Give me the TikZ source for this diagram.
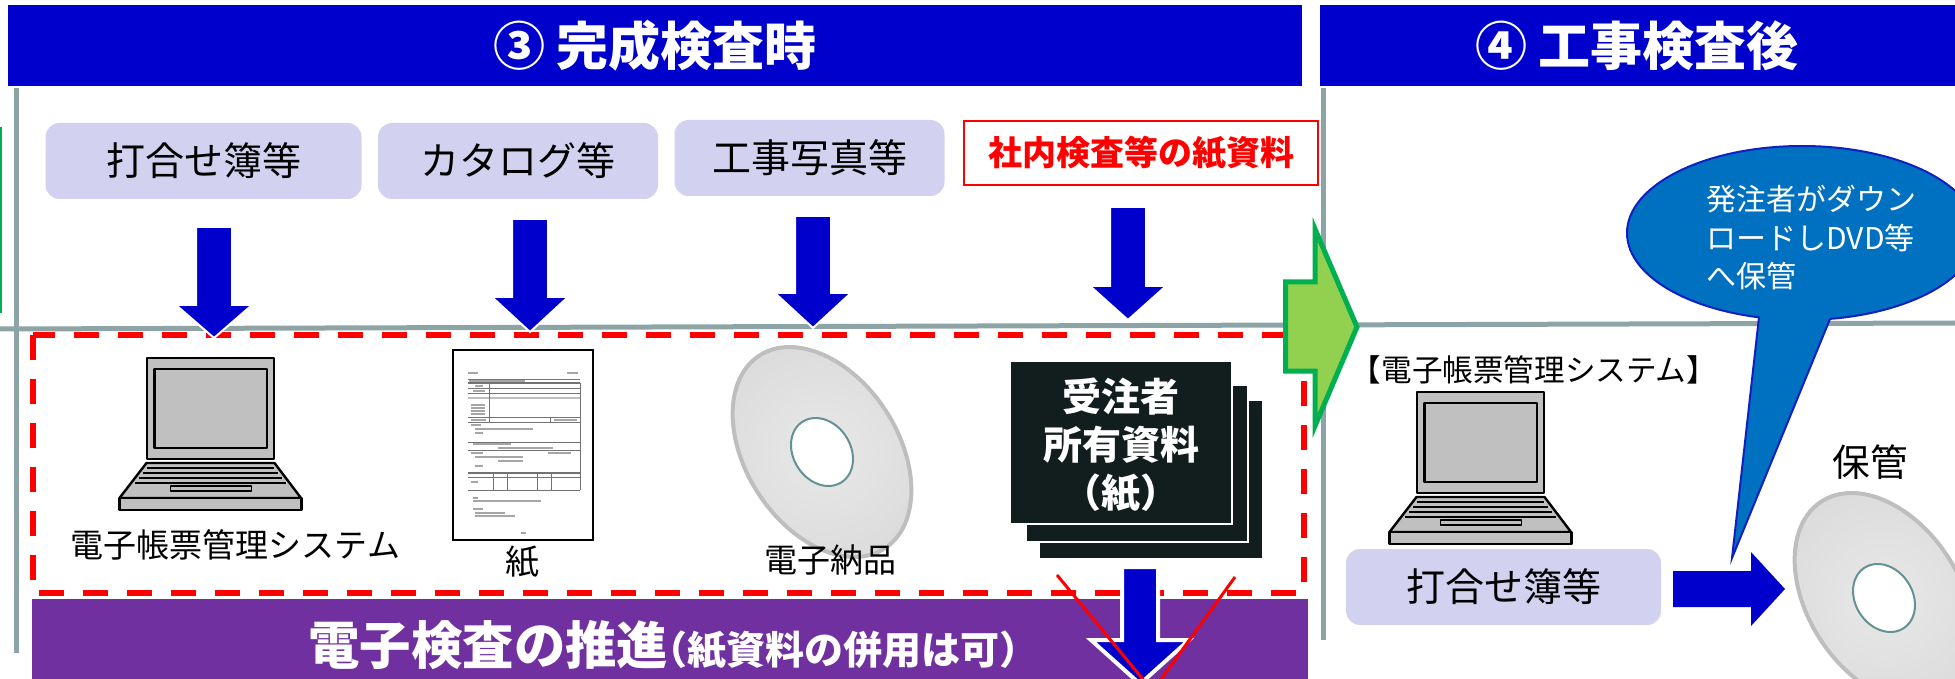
\documentclass[tikz,border=0pt]{standalone}
\usepackage{fontspec}
\setmainfont{Noto Sans CJK JP}
\usetikzlibrary{shapes.geometric}

\definecolor{hdrblue}{RGB}{0,0,204}
\definecolor{arrblue}{RGB}{0,0,204}
\definecolor{lav}{RGB}{210,210,240}
\definecolor{gridgray}{RGB}{140,164,166}
\definecolor{purp}{RGB}{112,48,160}
\definecolor{lgreen}{RGB}{146,208,80}
\definecolor{dgreen}{RGB}{0,176,80}
\definecolor{callfill}{RGB}{0,112,192}
\definecolor{callline}{RGB}{16,32,192}
\definecolor{stackfill}{RGB}{18,30,30}
\definecolor{holeline}{RGB}{100,145,145}
\definecolor{lapgray}{RGB}{192,192,192}
\definecolor{rimgray}{RGB}{190,190,190}

\pgfdeclareradialshading{discshade}{\pgfpointorigin}{rgb(0bp)=(0.91,0.91,0.91); rgb(30bp)=(0.86,0.86,0.86); rgb(50bp)=(0.78,0.78,0.78)}

% half-width brackets
\newcommand{\hbr}[1]{{\addfontfeature{RawFeature=+halt}#1}}

% block arrow pointing down: centre x, top, head start, tip, shaft half width, head half width, style
\newcommand{\dnarrow}[7]{%
  \path[#7] (#1-#5,#2) -- (#1+#5,#2) -- (#1+#5,#3) -- (#1+#6,#3) -- (#1,#4)
    -- (#1-#6,#3) -- (#1-#5,#3) -- cycle;}

% notebook computer, origin at the top centre of the lid
\newcommand{\laptopicon}[2]{%
  \begin{scope}[shift={(#1,#2)}]
    \draw[lapline] (-63.5,0) rectangle (63.5,101);
    \draw[lapline] (-56,11) rectangle (56.5,90);
    \draw[lapline] (-64,105) -- (64,105) -- (90.5,140) -- (-91,140) -- cycle;
    \draw[lapline] (-91,140) rectangle (91,152);
    \foreach \ky in {110,115,120,125}{
      \pgfmathsetmacro{\kl}{-64-(\ky-105)/35*27+4}
      \pgfmathsetmacro{\kr}{64+(\ky-105)/35*26.5-4}
      \draw[black, line width=0.6pt] (\kl,\ky) -- (\kr,\ky);
    }
    \draw[lapline, line width=0.8pt] (-40,128) rectangle (41,133);
  \end{scope}}

% optical disc seen at an angle
\newcommand{\discicon}[2]{%
  \begin{scope}[shift={(#1,#2)}, rotate=33]
    \path[shade, shading=discshade, draw=rimgray, line width=2pt] (0,0) ellipse [x radius=76, y radius=115];
    \draw[fill=white, draw=holeline, line width=1pt] (0,0) ellipse [x radius=28.6, y radius=36];
  \end{scope}}

\tikzset{
  lapline/.style={draw=black, fill=lapgray, line width=1.2pt, line join=round},
  lavbox/.style={fill=lav, rounded corners=7pt, inner sep=0pt,
    font=\fontsize{19.5pt}{23pt}\selectfont},
  hdrtext/.style={text=white, font=\fontsize{26pt}{30pt}\selectfont\bfseries},
  gridline/.style={draw=gridgray, line width=2.5pt},
  label/.style={inner sep=0pt, font=\fontsize{16.5pt}{20pt}\selectfont},
  blockarr/.style={fill=arrblue, draw=white, line width=1pt, line join=miter},
  formrule/.style={draw=black!55, line width=0.35pt},
  formtext/.style={draw=black!35, line width=0.9pt},
}

\begin{document}
\begin{tikzpicture}[x=0.5pt, y=-0.5pt]
\useasboundingbox (0,0) rectangle (1955,679);
\clip (0,0) rectangle (1955,679);

% title bars
\fill[hdrblue] (8,5) rectangle (1302,86);
\node[hdrtext] (head3) at (655,46) {③ 完成検査時};
\fill[hdrblue] (1320,5) rectangle (1955,86);
\node[hdrtext] (head4) at (1637,46) {④ 工事検査後};

% panel grid
\draw[gridline] (16.5,88) -- (16.5,653);
\draw[gridline] (1323,88) -- (1323,640);
\draw[gridline] (0,329) -- (1955,323);
\draw[dgreen, line width=1pt] (1,127) -- (1,313);

% source documents
\node[lavbox, minimum width=158pt, minimum height=38pt] (meet) at (203.5,161) {打合せ簿等};
\node[lavbox, minimum width=140pt, minimum height=38pt] (catalog) at (518,161) {カタログ等};
\node[lavbox, minimum width=135pt, minimum height=38pt] (photo) at (809.5,158) {工事写真等};
\node[draw=red, fill=white, line width=1pt, minimum width=177pt, minimum height=32pt, inner sep=0pt,
  text=red, font=\fontsize{17pt}{20pt}\selectfont\bfseries] (inhouse) at (1141,153) {社内検査等の紙資料};

% inspection area
\draw[red, line width=3pt, dash pattern=on 12.5pt off 9.5pt] (33,335) rectangle (1304,593);

\laptopicon{210.5}{358}
\node[label] (sys1) at (235.5,545) {電子帳票管理システム};

% paper form
\draw[black, line width=1.2pt, fill=white] (453,350) rectangle (593,540);
\begin{scope}[shift={(453,350)}]
  \draw[formtext] (15,23) -- (25,23);
  \draw[formtext] (114,23) -- (125,23);
  \draw[formrule] (15,29) -- (127,29);
  \draw[formrule, line width=0.8pt] (15,33) -- (127,33);
  \draw[formtext] (16,31) -- (72,31);
  \draw[formrule] (15,38) -- (127,38);
  \draw[formrule] (15,43) -- (127,43);
  \draw[draw=black!25, line width=1.2pt] (15,48) -- (127,48);
  \draw[formrule] (36,33) -- (36,72);
  \draw[formrule] (127,33) -- (127,140);
  \draw[formtext] (22,36) -- (30,36);
  \draw[formtext] (20,41) -- (32,41);
  \foreach \ty in {55,58,61,64}{\draw[formtext] (18,\ty) -- (32,\ty);}
  \draw[formrule] (15,67) -- (127,67);
  \draw[formrule] (15,72) -- (127,72);
  \draw[formrule] (97,67) -- (97,72);
  \draw[formtext] (18,70) -- (33,70);
  \draw[formtext] (101,70) -- (124,70);
  \draw[formtext] (18,75) -- (28,75);
  \draw[formtext] (22,79) -- (80,79);
  \draw[formtext] (22,83) -- (30,83);
  \draw[formrule] (15,92) -- (127,92);
  \draw[formtext] (20,94) -- (58,94);
  \draw[formtext] (45,98) -- (100,98);
  \draw[formrule] (15,100) -- (127,100);
  \draw[formtext] (18,103) -- (30,103);
  \draw[formtext] (95,103) -- (118,103);
  \draw[formtext] (22,107) -- (70,107);
  \draw[formtext] (45,111) -- (70,111);
  \draw[formtext] (22,116) -- (30,116);
  \draw[formrule, line width=0.8pt] (15,123) -- (127,123);
  \draw[formrule] (15,127) -- (127,127);
  \draw[formrule] (15,140) -- (127,140);
  \foreach \tx in {40,54,84,98}{\draw[formrule] (\tx,123) -- (\tx,140);}
  \draw[formtext] (18,132) -- (25,132);
  \draw[formtext] (20,148) -- (25,148);
  \draw[formtext] (20,151) -- (88,151);
  \draw[formtext] (20,159) -- (30,159);
  \draw[formtext] (22,163) -- (52,163);
  \draw[formtext] (22,166) -- (62,166);
  \draw[formtext] (68,183) -- (73,183);
\end{scope}
\node[label, font=\fontsize{17pt}{20pt}\selectfont] (paper) at (522,562) {紙};

\discicon{822}{452}
\node[label] (edeliv) at (830,560) {電子納品};

% contractor's own paper records
\draw[stackfill, fill=stackfill] (1040,401) rectangle (1261.6,557);
\draw[white, line width=1pt, fill=stackfill] (1026,385) rectangle (1248,542);
\draw[white, line width=1pt, fill=stackfill] (1010,361) rectangle (1231.7,524);
\node[text=white, align=center, inner sep=0pt, font=\fontsize{19.5pt}{24pt}\selectfont\bfseries]
  (owned) at (1121,445) {受注者\\所有資料\\\hbr{（}紙\hbr{）}};

% policy bar
\fill[purp] (32,599) rectangle (1308,690);
\node[anchor=base west, inner sep=0pt, text=white] (policy) at (308,664)
  {\fontsize{25.7pt}{30pt}\selectfont\bfseries 電子検査の推進\fontsize{19.5pt}{22pt}\selectfont\hbr{（}紙資料の併用は可\hbr{）}};

% flows into the inspection
\dnarrow{214}{227}{305}{338}{18}{38}{blockarr}
\dnarrow{530}{219}{297}{332}{18}{38}{blockarr}
\dnarrow{813}{216}{293}{328}{18}{38}{blockarr}
\dnarrow{1128}{207}{286}{320}{18}{38}{blockarr}
\dnarrow{1140}{567}{640}{684}{18}{49}{blockarr, line width=2pt}
\draw[red, line width=1.5pt] (1057,575) -- (1160,700);
\draw[red, line width=1.5pt] (1235,577) -- (1146,700);

% transition to the next stage
\draw[fill=lgreen, draw=dgreen, line width=2.5pt, line join=miter]
  (1285.5,282) -- (1315,282) -- (1315,229) -- (1357,327) -- (1315,426)
  -- (1315,371) -- (1285.5,371) -- cycle;

% after inspection
\node[inner sep=0pt, font=\fontsize{15.3pt}{18pt}\selectfont] (sys2) at (1534,370) {【電子帳票管理システム】};
\laptopicon{1480.5}{392}
\node[lavbox, minimum width=157.5pt, minimum height=38pt] (meet2) at (1503.5,587) {打合せ簿等};
\path[fill=arrblue] (1673,571) -- (1751,571) -- (1751,552) -- (1785,589) -- (1751,626)
  -- (1751,607) -- (1673,607) -- cycle;
\node[inner sep=0pt, font=\fontsize{18.8pt}{22pt}\selectfont] (keep) at (1870,462) {保管};
\discicon{1884}{598}

% speech bubble
\draw[fill=callfill, draw=callline, line width=1pt] (1802,233) ellipse [x radius=175, y radius=87];
\fill[callfill] (1759,317) -- (1762,300) -- (1828,300) -- (1830,319) -- (1732,558) -- cycle;
\draw[callline, line width=1pt, line join=miter] (1759,317) -- (1732,558) -- (1830,319);
\node[anchor=west, align=left, inner sep=0pt, text=white, font=\fontsize{15pt}{19.25pt}\selectfont]
  (bubble) at (1706,238) {発注者がダウン\\ロードしDVD等\\へ保管};

\end{tikzpicture}
\end{document}
